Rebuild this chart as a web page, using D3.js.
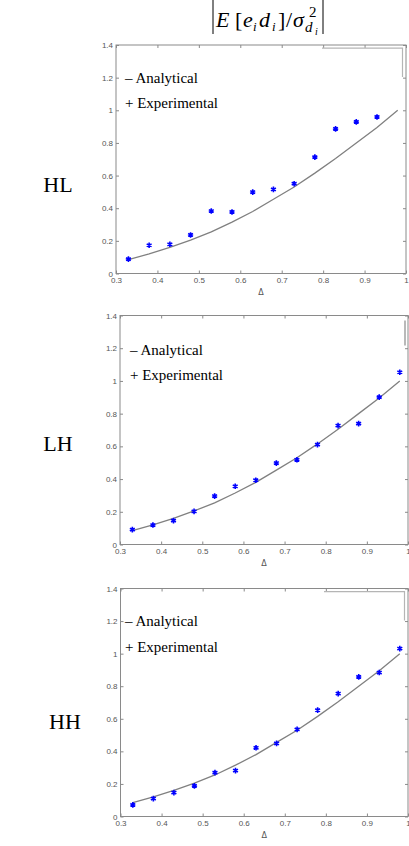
<!DOCTYPE html>
<html><head><meta charset="utf-8">
<script src="https://cdn.jsdelivr.net/npm/d3@7"></script>
<style>body{margin:0;background:#fff}svg{display:block}</style>
</head><body>
<script>
// ---- data ----
const deltas = [0.33,0.38,0.43,0.48,0.53,0.58,0.63,0.68,0.73,0.78,0.83,0.88,0.93,0.98];
const analytical = [0.085,0.12,0.16,0.205,0.255,0.315,0.38,0.455,0.53,0.615,0.705,0.80,0.895,1.0];
const expHL = [0.088,0.173,0.179,0.236,0.383,0.377,0.499,0.515,0.55,0.713,0.886,0.929,0.959,null];
const expLH = [0.091,0.119,0.146,0.202,0.296,0.356,0.393,0.498,0.518,0.611,0.727,0.739,0.901,1.053];
const expHH = [0.071,0.110,0.147,0.188,0.269,0.282,0.422,0.449,0.535,0.653,0.755,0.857,0.884,1.031];
const panelNames = ["HL","LH","HH"];
const xTicks = [0.3,0.4,0.5,0.6,0.7,0.8,0.9,1];
const yTicks = [0,0.2,0.4,0.6,0.8,1,1.2,1.4];
const legendLabels = ["\u2013 Analytical","+ Experimental"];
const xLabel = "\u0394";

const W=409,H=846;
const svg=d3.select("body").append("svg").attr("width",W).attr("height",H);

// ---- title |E[e_i d_i]/σ^2_{d_i}| ----
const tg=svg.append("g").attr("font-family","Liberation Serif, Times New Roman, serif").attr("fill","#000");
const glyphs=[
 {t:"E",x:216,y:27,s:22,it:true},
 {t:"[",x:235,y:27,s:22},
 {t:"e",x:243,y:27,s:22,it:true},
 {t:"i",x:253,y:31,s:13,it:true},
 {t:"d",x:259,y:27,s:22,it:true},
 {t:"i",x:272,y:31,s:13,it:true},
 {t:"]",x:278,y:27,s:22},
 {t:"/",x:286,y:27,s:22},
 {t:"\u03C3",x:293,y:27,s:22,it:true},
 {t:"2",x:309,y:17,s:15},
 {t:"d",x:305,y:32,s:15,it:true},
 {t:"i",x:315,y:35,s:10,it:true}
];
glyphs.forEach(g=>tg.append("text").attr("x",g.x).attr("y",g.y).attr("font-size",g.s)
  .attr("font-style",g.it?"italic":"normal").text(g.t));
tg.append("line").attr("x1",213).attr("x2",213).attr("y1",0).attr("y2",34).attr("stroke","#000").attr("stroke-width",1);
tg.append("line").attr("x1",323).attr("x2",323).attr("y1",0).attr("y2",34).attr("stroke","#000").attr("stroke-width",1);

// ---- panels ----
const panels=[
 {name:panelNames[0],exp:expHL,l:116,r:406,t:45,b:273.5,lx:125,ly:82.5,nx:58,ny:192,box:"h"},
 {name:panelNames[1],exp:expLH,l:120,r:408,t:315.5,b:544.5,lx:130,ly:354.5,nx:58,ny:451,box:"v"},
 {name:panelNames[2],exp:expHH,l:120.5,r:408,t:588.5,b:816.5,lx:125,ly:626,nx:65,ny:729,box:"h"}
];
const axisCol="#8a8a8a", textCol="#555";
const fmt=d=>d===0?"0":(d===1?"1":String(+d.toFixed(1)));

panels.forEach(p=>{
  const x=d3.scaleLinear().domain([0.3,1]).range([p.l,p.r]);
  const y=d3.scaleLinear().domain([0,1.4]).range([p.b,p.t]);
  const g=svg.append("g");
  // frame
  g.append("rect").attr("x",p.l).attr("y",p.t).attr("width",p.r-p.l).attr("height",p.b-p.t)
   .attr("fill","none").attr("stroke",axisCol).attr("stroke-width",1);
  const styleAxis=sel=>{sel.select(".domain").remove();sel.selectAll("line").attr("stroke",axisCol);
    sel.selectAll("text").attr("fill",textCol).attr("font-size",8).attr("font-family","Liberation Sans, Arial, sans-serif");};
  g.append("g").attr("transform",`translate(0,${p.b})`)
   .call(d3.axisBottom(x).tickValues(xTicks).tickFormat(fmt).tickSizeInner(-3).tickSizeOuter(0).tickPadding(4)).call(styleAxis);
  g.append("g").attr("transform",`translate(0,${p.t})`)
   .call(d3.axisTop(x).tickValues(xTicks).tickFormat("").tickSizeInner(-3).tickSizeOuter(0)).call(styleAxis);
  g.append("g").attr("transform",`translate(${p.l},0)`)
   .call(d3.axisLeft(y).tickValues(yTicks).tickFormat(fmt).tickSizeInner(-3).tickSizeOuter(0).tickPadding(3)).call(styleAxis);
  g.append("g").attr("transform",`translate(${p.r},0)`)
   .call(d3.axisRight(y).tickValues(yTicks).tickFormat("").tickSizeInner(-3).tickSizeOuter(0)).call(styleAxis);
  // x label
  g.append("text").attr("x",(p.l+p.r)/2).attr("y",p.b+21).attr("text-anchor","middle")
   .attr("font-size",8).attr("font-family","DejaVu Sans, sans-serif").attr("fill",textCol).text(xLabel);
  // legend box remnant
  if(p.box==="h"){
    g.append("path").attr("d",`M${p.r-84},${p.t+3.2}H${p.r-3.5}V${p.t+32}`).attr("fill","none").attr("stroke","#b5b5b5").attr("stroke-width",1.2);
  } else {
    g.append("path").attr("d",`M${p.r-3},${p.t+5}V${p.t+30}`).attr("fill","none").attr("stroke","#8a8a8a").attr("stroke-width",1.2);
  }
  // analytical line
  const line=d3.line().x((d,i)=>x(deltas[i])).y(d=>y(d));
  g.append("path").datum(analytical).attr("d",line).attr("fill","none").attr("stroke","#808080").attr("stroke-width",1.3);
  // experimental
  const pts=deltas.map((d,i)=>({d,v:p.exp[i]})).filter(o=>o.v!=null);
  const sym=d3.symbol().type(d3.symbolAsterisk).size(22);
  g.selectAll(".pt").data(pts).join("path").attr("class","pt")
   .attr("transform",o=>`translate(${x(o.d)},${y(o.v)})`).attr("d",sym)
   .attr("fill","none").attr("stroke","#0000ff").attr("stroke-width",1.6);
  // legend text
  legendLabels.forEach((t,i)=>g.append("text").attr("x",p.lx).attr("y",p.ly+i*25.5)
    .attr("font-family","Liberation Serif, Times New Roman, serif").attr("font-size",15).attr("fill","#000").text(t));
  // panel name
  svg.append("text").attr("x",p.nx).attr("y",p.ny).attr("text-anchor","middle")
   .attr("font-family","Liberation Serif, Times New Roman, serif").attr("font-size",22).attr("fill","#000").text(p.name);
});
</script>
</body></html>
